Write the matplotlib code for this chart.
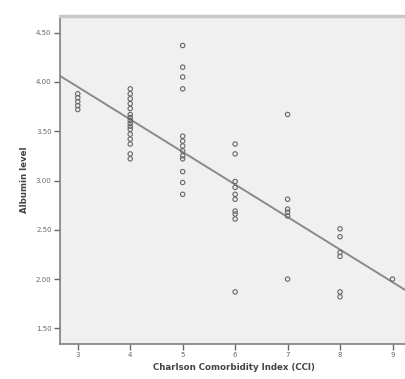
import numpy as np
import matplotlib
matplotlib.use("Agg")
import matplotlib.pyplot as plt

# CCI score and albumin level per patient
cci_3 = [3.88, 3.84, 3.80, 3.76, 3.72]
cci_4 = [3.93, 3.88, 3.83, 3.78, 3.73, 3.67, 3.64, 3.61, 3.58, 3.55,
         3.52, 3.47, 3.42, 3.37, 3.27, 3.22]
cci_5 = [4.37, 4.15, 4.05, 3.93, 3.45, 3.40, 3.35, 3.30, 3.25, 3.22,
         3.09, 2.98, 2.86]
cci_6 = [3.37, 3.27, 2.99, 2.93, 2.86, 2.81, 2.69, 2.66, 2.61, 1.87]
cci_7 = [3.67, 2.81, 2.71, 2.68, 2.64, 2.00]
cci_8 = [2.51, 2.43, 2.27, 2.23, 1.87, 1.82]
cci_9 = [2.00]

groups = {3: cci_3, 4: cci_4, 5: cci_5, 6: cci_6, 7: cci_7, 8: cci_8, 9: cci_9}
x = np.concatenate([[k] * len(v) for k, v in groups.items()])
y = np.concatenate(list(groups.values()))

xticks = [3, 4, 5, 6, 7, 8, 9]
yticks = [1.50, 2.00, 2.50, 3.00, 3.50, 4.00, 4.50]

fig = plt.figure(figsize=(4.05, 3.79), dpi=100)
ax = fig.add_axes([0.148, 0.092, 0.86, 0.866])
ax.set_facecolor("#f0f0f1")

ax.scatter(x, y, s=10, facecolors="none", edgecolors="#666666", linewidths=0.8, zorder=3)

# linear fit line
b, a = np.polyfit(x, y, 1)
xl = np.array([2.66, 9.3])
ax.plot(xl, a + b * xl, color="#8a8a8a", lw=1.4, zorder=2)

ax.set_xlim(2.66, 9.3)
ax.set_ylim(1.34, 4.67)
ax.set_xticks(xticks)
ax.set_yticks(yticks)
ax.set_yticklabels([f"{t:.2f}" for t in yticks])
ax.tick_params(labelsize=5, colors="#666666", length=4, width=1, pad=2)

for s in ["left", "bottom"]:
    ax.spines[s].set_color("#808080")
    ax.spines[s].set_linewidth(1.2)
ax.spines["top"].set_color("#c8c8c8")
ax.spines["top"].set_linewidth(2.5)
ax.spines["right"].set_visible(False)

ax.set_xlabel("Charlson Comorbidity Index (CCI)", fontsize=6.2, fontweight="bold", color="#444444", labelpad=3)
ax.set_ylabel("Albumin level", fontsize=6.2, fontweight="bold", color="#444444", labelpad=5)

fig.savefig("out.png", dpi=100)
